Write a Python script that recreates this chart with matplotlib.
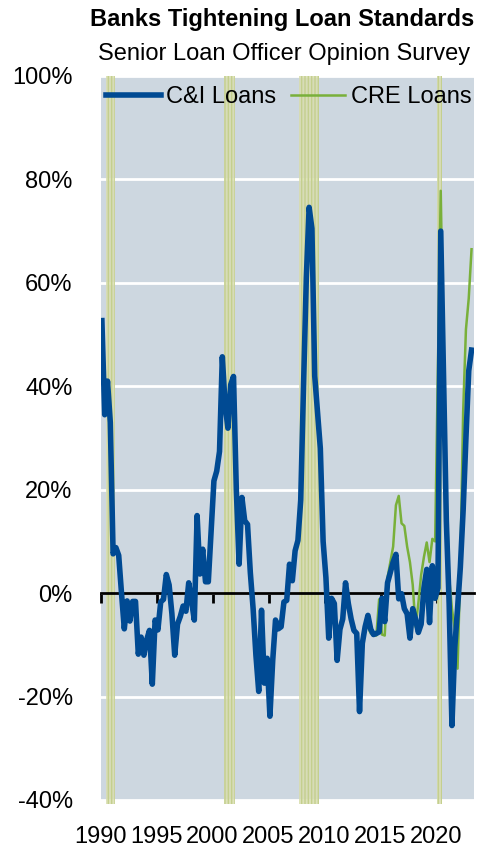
import matplotlib.pyplot as plt
import numpy as np
import pandas as pd

# net % of banks tightening standards, quarterly from 1990Q1
ci_loans = [52.7, 34.5, 41, 33, 7.6, 8.8, 7.3, 0, -6.9, -1.5,
            -5.4, -1.6, -1.6, -11.8, -8.5, -12, -9, -7.2, -17.6, -5.2,
            -7.1, -1.7, -1.2, 3.6, 1.6, -4, -12, -6, -4.5, -2.5,
            -3.5, 2, -1.5, -5.2, 15, 3.7, 8.5, 2.2, 2.2, 12,
            21.7, 23.6, 27.4, 45.7, 36.4, 31.9, 40.3, 41.9, 20, 5.6,
            18.5, 14, 13.3, 4, -3, -12, -19, -3.3, -17.4, -12.6,
            -23.8, -13, -5.2, -6.9, -6.5, -1.7, -1.4, 5.6, 2.4, 8.2,
            10.2, 18, 40, 61, 74.6, 70.5, 42, 35, 28, 10,
            3, -8.7, -1, -2, -13, -7, -5, 2, -2, -5,
            -7.2, -7.8, -22.9, -9.7, -6.5, -4.3, -7, -8, -7.8, -7.5,
            -1, -5.5, 2, 4, 6, 7.5, -1.1, -0.1, -3, -4,
            -8.7, -3, -5, -7.6, -6, 1, 4.6, -5.7, 5.3, -1,
            1, 70, 42, 14, -2, -25.6, -10.5, -3, 5, 16,
            30, 43, 47]

cre_start = "2013Q3"
cre_loans = [-6.5, -6.5, -7.8, -8.2, -8.2, -1.2, -8, -8.2, 3, 6,
             9, 17, 18.8, 13.5, 13, 9, 6, 1.6, -6.5, -2,
             3.5, 7, 9.8, 6, 10.5, 10, 44, 77.8, 45, 20,
             3, -3, -7, -14.6, 5, 35, 51, 57, 66.5]

recessions = [("1990Q3", "1991Q1"), ("2001Q1", "2001Q4"),
              ("2007Q4", "2009Q2"), ("2020Q1", "2020Q2")]

quarters = pd.period_range("1990Q1", periods=len(ci_loans), freq="Q")
x = np.arange(len(ci_loans))
cre_off = (pd.Period(cre_start, "Q") - quarters[0]).n
cre_x = np.arange(cre_off, cre_off + len(cre_loans))

plt.rcParams['font.family'] = ['Liberation Sans', 'DejaVu Sans']

fig = plt.figure(figsize=(4.79, 8.52), dpi=100)
ax = fig.add_axes([100.5 / 479, 52 / 852, 373 / 479, 724 / 852])
ax.set_facecolor('#cdd7e0')

# shaded recessions
for a, b in recessions:
    s = (pd.Period(a, "Q") - quarters[0]).n - 0.5
    e = (pd.Period(b, "Q") - quarters[0]).n + 0.5
    ax.axvspan(s, e, ymin=-0.006, ymax=1, facecolor=(0.85, 0.87, 0.69, 0.85),
               edgecolor='#c4cf8e', hatch='|||||', lw=0, clip_on=False, zorder=1)

ax.plot(x, ci_loans, color='#004a93', lw=4.0, label='C&I Loans', zorder=4,
        solid_joinstyle='round')
ax.plot(cre_x, cre_loans, color='#79b03a', lw=1.8, label='CRE Loans', zorder=3)

ax.set_ylim(-40, 100)
ax.set_xlim(-0.5, 132.7)
ax.set_yticks(np.arange(-40, 101, 20))
ax.set_yticklabels([f"{v}%" for v in range(-40, 101, 20)])
ax.yaxis.grid(True, color='white', lw=2)
ax.set_axisbelow(True)
ax.tick_params(axis='y', length=0, pad=20, labelsize=17)

for side in ['left', 'right', 'top']:
    ax.spines[side].set_visible(False)
ax.spines['bottom'].set_position(('data', 0))
ax.spines['bottom'].set_linewidth(2)
ax.spines['bottom'].set_zorder(2.5)

year_idx = [i for i, q in enumerate(quarters) if q.quarter == 1 and q.year % 5 == 0]
tick_pos = [i - 0.5 for i in year_idx]
ax.set_xticks(tick_pos)
ax.tick_params(axis='x', direction='out', length=7, width=2, labelbottom=False)

lab = ax.secondary_xaxis('bottom')
lab.set_xticks(tick_pos)
lab.set_xticklabels([str(quarters[i].year) for i in year_idx])
lab.tick_params(length=0, pad=19, labelsize=17)
lab.spines['bottom'].set_visible(False)

ax.legend(loc='center', bbox_to_anchor=(0.505, 0.971), ncol=2, frameon=False,
          fontsize=17, handlelength=2.3, handletextpad=0.25, columnspacing=0.6,
          borderaxespad=0, borderpad=0)

fig.text(0.59, 0.977, "Banks Tightening Loan Standards", ha='center', va='center',
         fontsize=17, fontweight='bold')
fig.text(0.593, 0.937, "Senior Loan Officer Opinion Survey", ha='center', va='center',
         fontsize=17)

fig.savefig('out.png', dpi=100)
